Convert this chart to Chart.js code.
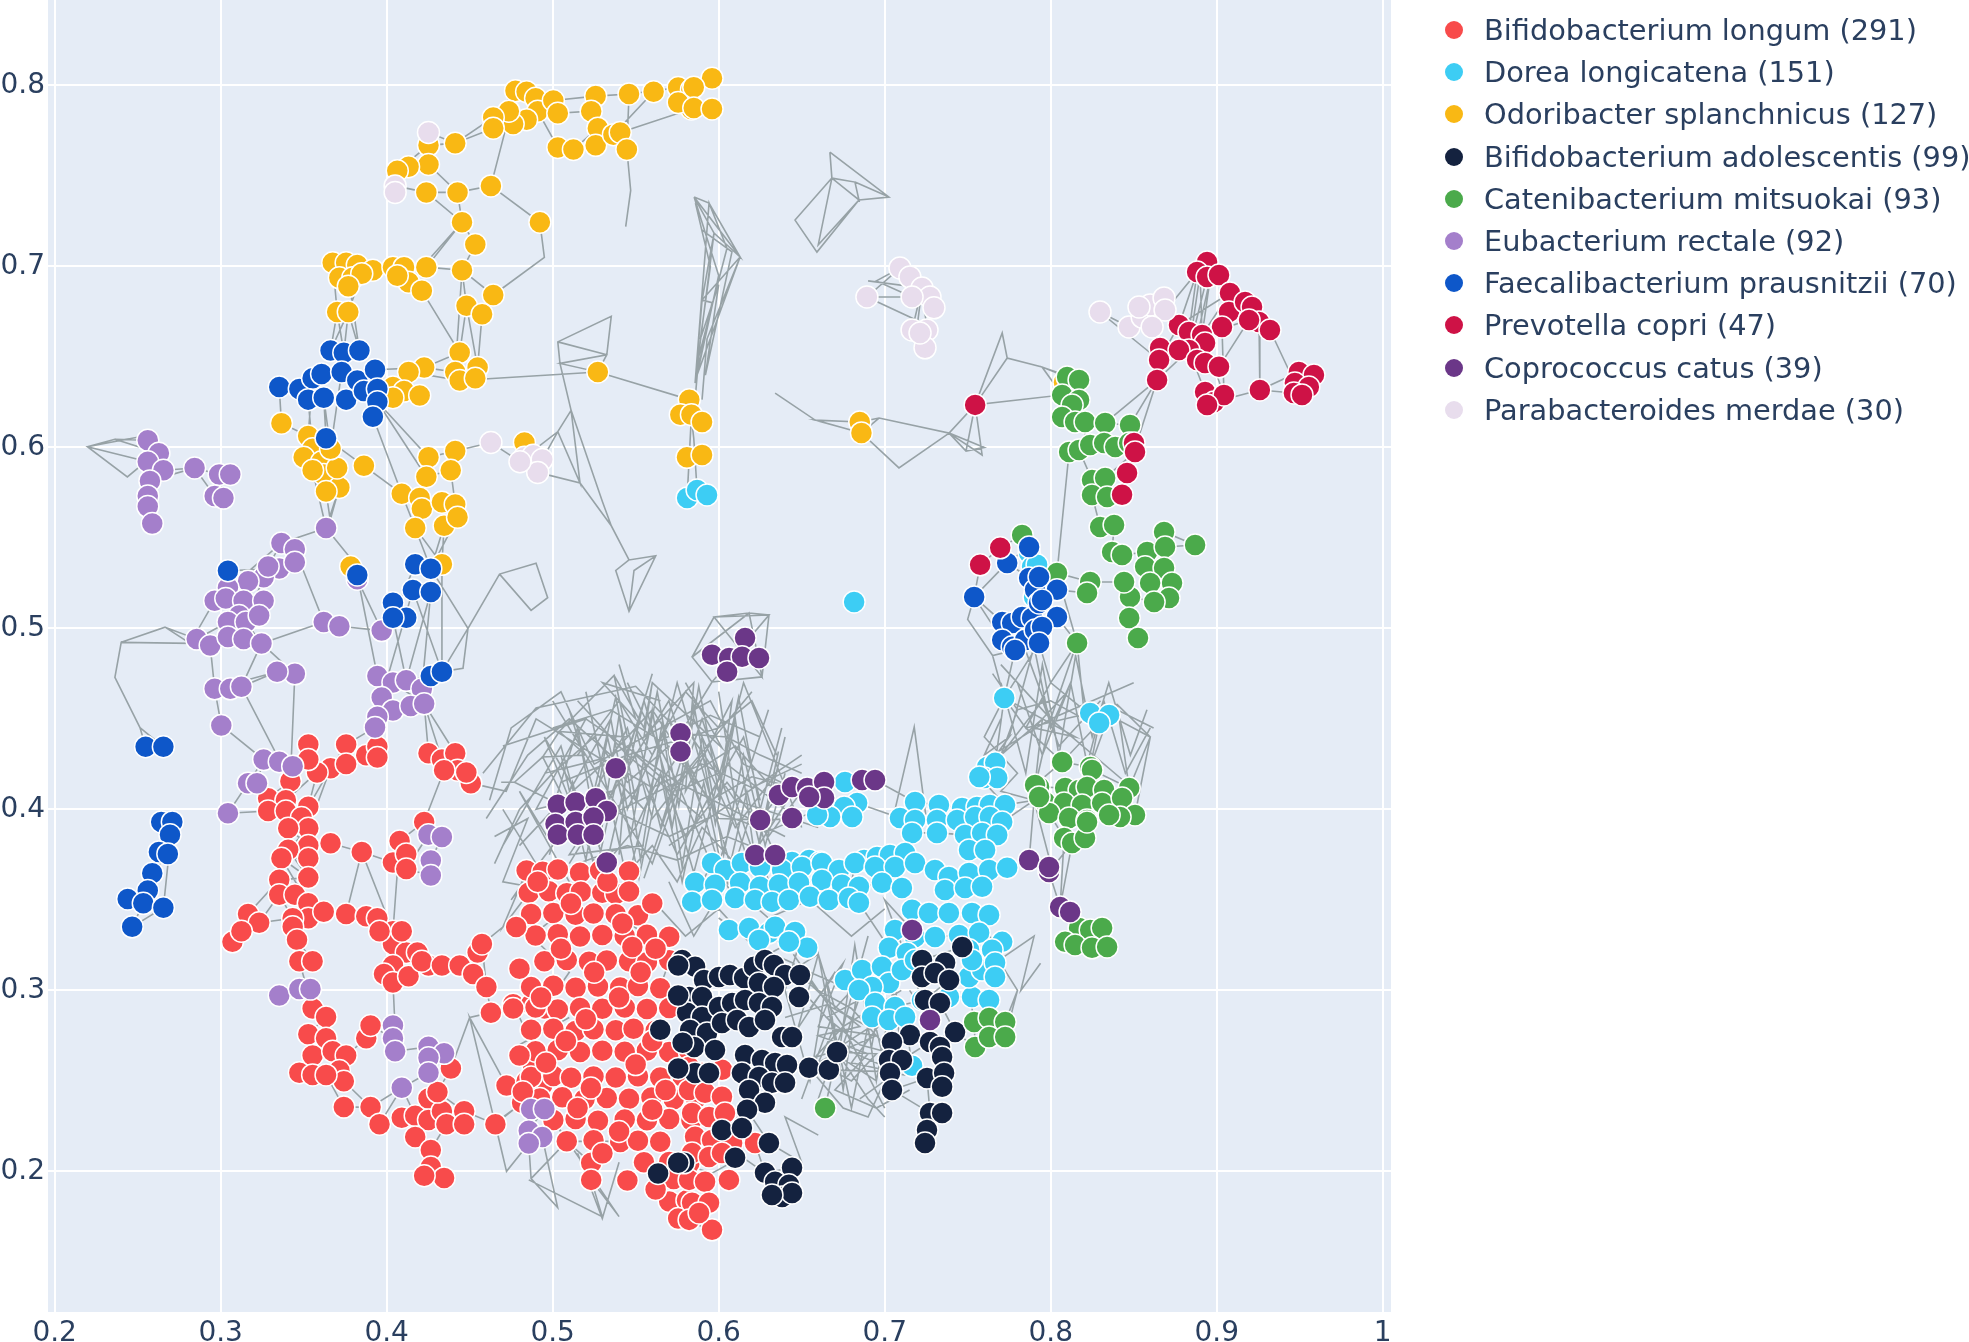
<!DOCTYPE html>
<html><head><meta charset="utf-8">
<script src="https://cdn.jsdelivr.net/npm/chart.js@4.4.1/dist/chart.umd.min.js"></script>
<style>
html,body{margin:0;padding:0;background:#fff;overflow:hidden;}
#wrap{position:relative;width:1969px;height:1342px;overflow:hidden;}
#c{position:absolute;left:0;top:0;}
#legend{position:absolute;left:1440px;top:9px;font-family:"DejaVu Sans",Verdana,sans-serif;font-size:28.8px;color:#2a3f5f;}
.item{height:42.2px;display:flex;align-items:center;white-space:nowrap;}
.dot{width:18px;height:18px;border-radius:50%;margin-left:5px;margin-right:21px;flex:none;}
</style></head>
<body>
<div id="wrap"><canvas id="c" width="1969" height="1342"></canvas><div id="legend"></div></div>
<script>
// ---------- tick labels ----------
const xTicks = [0.2,0.3,0.4,0.5,0.6,0.7,0.8,0.9,1.0];
const yTicks = [0.2,0.3,0.4,0.5,0.6,0.7,0.8];

// ---------- categories ----------
const speciesNames = ["Bifidobacterium longum","Dorea longicatena","Odoribacter splanchnicus","Bifidobacterium adolescentis","Catenibacterium mitsuokai","Eubacterium rectale","Faecalibacterium prausnitzii","Prevotella copri","Coprococcus catus","Parabacteroides merdae"];
const speciesCounts = [291,151,127,99,93,92,70,47,39,30];

// ---------- node positions (x, y) per species ----------
const longum = [
[0.3528,0.4358],[0.3756,0.4358],[0.3877,0.4299],[0.3944,0.4346],[0.3944,0.4287],[0.3662,0.4227],[0.3756,0.4251],[0.3581,0.4204],[0.3528,0.4275],[0.3420,0.4156],
[0.3286,0.4062],[0.3393,0.4050],[0.3286,0.3991],[0.3393,0.3991],[0.3528,0.4014],[0.3487,0.3955],[0.3528,0.3896],[0.3407,0.3896],[0.3528,0.3801],[0.3407,0.3777],
[0.3528,0.3730],[0.3662,0.3813],[0.3850,0.3765],[0.3366,0.3730],[0.3353,0.3611],[0.3528,0.3623],[0.3353,0.3528],[0.3447,0.3528],[0.3528,0.3481],[0.3528,0.3398],
[0.3434,0.3398],[0.3434,0.3351],[0.3460,0.3280],[0.3165,0.3422],[0.3232,0.3374],[0.3071,0.3268],[0.3125,0.3327],[0.3621,0.3434],[0.3756,0.3422],[0.3877,0.3410],
[0.3944,0.3398],[0.4038,0.3327],[0.4038,0.3256],[0.4118,0.3209],[0.4185,0.3209],[0.4252,0.3137],[0.4038,0.3137],[0.3984,0.3090],[0.4038,0.3043],[0.4132,0.3078],
[0.4212,0.3161],[0.4091,0.3327],[0.3957,0.3327],[0.3474,0.3161],[0.3554,0.3161],[0.4333,0.3137],[0.4440,0.3137],[0.4521,0.3090],[0.4548,0.3209],[0.4574,0.3256],
[0.4601,0.3019],[0.4628,0.2877],[0.4762,0.2924],[0.4870,0.2924],[0.4950,0.2900],[0.4252,0.4310],[0.4333,0.4275],[0.4413,0.4310],[0.4427,0.4216],[0.4346,0.4216],
[0.4507,0.4145],[0.4480,0.4204],[0.4226,0.3931],[0.4078,0.3825],[0.4038,0.3706],[0.4118,0.3754],[0.4118,0.3671],
[0.3554,0.2900],[0.3635,0.2853],[0.3528,0.2758],[0.3635,0.2735],[0.3554,0.2640],[0.3675,0.2664],[0.3756,0.2640],[0.3715,0.2557],[0.3742,0.2498],[0.3474,0.2545],
[0.3554,0.2533],[0.3635,0.2533],[0.3742,0.2355],[0.3903,0.2355],[0.3957,0.2261],[0.3877,0.2735],[0.3903,0.2806],[0.4091,0.2296],[0.4172,0.2308],[0.4252,0.2403],
[0.4252,0.2284],[0.4333,0.2332],[0.4360,0.2261],[0.4467,0.2332],[0.4467,0.2261],[0.4172,0.2190],[0.4266,0.2118],[0.4266,0.2024],[0.4346,0.1964],[0.4226,0.1976],
[0.4655,0.2261],[0.4722,0.2474],[0.4816,0.2379],[0.4843,0.2498],[0.4883,0.2569],[0.4937,0.2474],[0.4306,0.2438],[0.4387,0.2569],
[0.4843,0.3662],[0.4940,0.3655],[0.5031,0.3668],[0.5165,0.3650],[0.5286,0.3662],[0.5460,0.3657],
[0.4856,0.3540],[0.4977,0.3548],[0.5085,0.3536],[0.5170,0.3545],[0.5299,0.3540],[0.5380,0.3532],[0.5460,0.3546],
[0.4870,0.3422],[0.5004,0.3428],[0.5138,0.3418],[0.5246,0.3425],[0.5380,0.3420],[0.5514,0.3415],
[0.4897,0.3303],[0.5031,0.3310],[0.5165,0.3298],[0.5299,0.3306],[0.5434,0.3300],[0.5568,0.3308],[0.5702,0.3296],
[0.4950,0.3161],[0.5085,0.3168],[0.5219,0.3158],[0.5326,0.3165],[0.5460,0.3161],[0.5568,0.3155],[0.5702,0.3166],
[0.4870,0.3019],[0.5004,0.3025],[0.5138,0.3014],[0.5273,0.3021],[0.5407,0.3016],[0.5514,0.3024],[0.5648,0.3012],
[0.4762,0.2900],[0.4897,0.2906],[0.5031,0.2895],[0.5165,0.2903],[0.5299,0.2898],[0.5434,0.2905],[0.5568,0.2897],[0.5702,0.2902],
[0.4870,0.2782],[0.5004,0.2788],[0.5138,0.2776],[0.5246,0.2785],[0.5380,0.2780],[0.5487,0.2788],[0.5621,0.2779],
[0.4897,0.2664],[0.5031,0.2670],[0.5165,0.2660],[0.5299,0.2667],[0.5434,0.2661],[0.5568,0.2668],[0.5702,0.2659],[0.5823,0.2665],
[0.4870,0.2521],[0.5004,0.2527],[0.5111,0.2517],[0.5246,0.2524],[0.5380,0.2519],[0.5514,0.2526],[0.5648,0.2518],[0.5783,0.2523],
[0.4923,0.2403],[0.5058,0.2409],[0.5192,0.2398],[0.5326,0.2406],[0.5460,0.2401],[0.5595,0.2408],[0.5729,0.2399],[0.5863,0.2404],
[0.5004,0.2284],[0.5138,0.2290],[0.5273,0.2280],[0.5434,0.2287],[0.5568,0.2282],[0.5702,0.2289],[0.5836,0.2281],
[0.5085,0.2166],[0.5246,0.2172],[0.5407,0.2162],[0.5514,0.2169],[0.5648,0.2164],
[0.5232,0.2047],[0.5702,0.2052],[0.5823,0.2044],[0.5232,0.1953],[0.5729,0.1958],[0.5702,0.1834],[0.5809,0.1840],[0.5756,0.1739],
[0.4910,0.3600],[0.5110,0.3480],[0.5330,0.3600],[0.5420,0.3370],[0.5050,0.3230],[0.5250,0.3100],[0.5480,0.3240],[0.4930,0.2960],[0.5200,0.2840],[0.5400,0.2960],
[0.5600,0.2720],[0.4960,0.2600],[0.5230,0.2460],[0.5500,0.2590],[0.5680,0.2450],[0.5150,0.2350],[0.5400,0.2220],[0.5600,0.2340],[0.5300,0.2100],[0.5550,0.2050],
[0.5450,0.1950],[0.5620,0.1900],[0.5080,0.2720],[0.4800,0.2640],[0.4820,0.2440],[0.5530,0.3100],[0.5620,0.3230],[0.4800,0.3120],[0.4780,0.3350],[0.5600,0.3480],
[0.5822,0.2577],[0.5900,0.2544],[0.6020,0.2561],[0.5822,0.2450],[0.5918,0.2434],[0.6020,0.2412],[0.5840,0.2323],[0.5942,0.2301],[0.6038,0.2323],[0.5858,0.2191],
[0.5960,0.2174],[0.6081,0.2157],[0.6219,0.2157],[0.5840,0.2102],[0.5942,0.2080],[0.6020,0.2102],[0.6062,0.1953],[0.5822,0.1953],[0.5918,0.1942],[0.5840,0.1826],
[0.5942,0.1826],[0.5822,0.1732],[0.5960,0.1677],[0.5882,0.1770]
];
const dorea = [
[0.5810,0.5721],[0.5870,0.5765],[0.5930,0.5737],[0.6816,0.5146],[0.7720,0.4616],
[0.7617,0.4234],[0.7666,0.4257],[0.7600,0.4174],[0.7678,0.4174],[0.7570,0.4179],
[0.6761,0.4151],[0.6834,0.4035],[0.6756,0.4013],[0.6804,0.3958],[0.6671,0.3958],[0.6593,0.3969],
[0.7183,0.4041],[0.7327,0.4024],[0.7466,0.4008],[0.7556,0.4013],[0.7634,0.4024],[0.7725,0.4024],[0.7092,0.3952],[0.7183,0.3942],[0.7315,0.3942],[0.7436,0.3942],
[0.7545,0.3958],[0.7634,0.3958],[0.7708,0.3930],[0.7165,0.3870],[0.7315,0.3870],[0.7484,0.3859],[0.7587,0.3870],[0.7678,0.3859],[0.7508,0.3776],[0.7605,0.3776],
[0.6442,0.3709],[0.6545,0.3720],[0.6611,0.3709],[0.6876,0.3720],[0.6954,0.3737],[0.7032,0.3748],[0.7123,0.3759],
[0.5960,0.3704],[0.6038,0.3665],[0.6140,0.3704],[0.6249,0.3682],[0.6382,0.3665],[0.6502,0.3682],[0.6622,0.3704],[0.6725,0.3665],[0.6821,0.3704],[0.6942,0.3682],
[0.7062,0.3682],[0.7183,0.3704],[0.7303,0.3665],[0.7387,0.3627],[0.7508,0.3649],[0.7629,0.3665],[0.7738,0.3677],
[0.5858,0.3594],[0.5978,0.3583],[0.6129,0.3594],[0.6249,0.3572],[0.6363,0.3583],[0.6484,0.3594],[0.6622,0.3610],[0.6743,0.3583],[0.6845,0.3572],[0.6984,0.3594],
[0.7104,0.3566],[0.7363,0.3555],[0.7484,0.3566],[0.7587,0.3572],
[0.5840,0.3489],[0.5960,0.3500],[0.6099,0.3511],[0.6219,0.3500],[0.6321,0.3489],[0.6423,0.3500],[0.6550,0.3517],[0.6664,0.3500],[0.6785,0.3511],[0.6845,0.3484],
[0.7165,0.3445],[0.7267,0.3428],[0.7387,0.3428],[0.7526,0.3428],[0.7629,0.3417],
[0.6062,0.3334],[0.6183,0.3345],[0.6303,0.3318],[0.6340,0.3351],[0.6460,0.3323],[0.6533,0.3235],[0.6423,0.3268],[0.6243,0.3279],
[0.7062,0.3334],[0.7183,0.3295],[0.7303,0.3295],[0.7448,0.3306],[0.7569,0.3318],[0.7708,0.3268],[0.7026,0.3235],[0.7134,0.3207],[0.7508,0.3224],[0.7647,0.3224],
[0.6761,0.3058],[0.6864,0.3113],[0.6984,0.3130],[0.7026,0.3041],[0.6924,0.3019],[0.6845,0.3002],[0.6942,0.2930],[0.7062,0.2908],[0.7225,0.2947],[0.7387,0.2964],
[0.7526,0.2964],[0.7629,0.2947],[0.7508,0.3074],[0.7587,0.3113],[0.7665,0.3152],[0.7665,0.3074],[0.7526,0.3168],[0.7104,0.3113],[0.7183,0.3168],
[0.6924,0.2853],[0.7026,0.2837],[0.7123,0.2853],[0.7165,0.2583],
[0.7870,0.5417],[0.7888,0.5340],[0.7900,0.5174],[0.7918,0.5351],[0.8238,0.4532],[0.8352,0.4521],[0.8292,0.4477]
];
const odoribacter = [
[0.4776,0.7970],[0.4843,0.7965],[0.4897,0.7929],[0.4910,0.7858],[0.4843,0.7811],[0.4762,0.7787],[0.4736,0.7858],[0.4642,0.7823],[0.4642,0.7764],[0.5004,0.7917],
[0.5031,0.7846],[0.5031,0.7657],[0.5125,0.7646],[0.5259,0.7941],[0.5232,0.7858],[0.5272,0.7764],[0.5259,0.7669],[0.5366,0.7728],[0.5407,0.7740],[0.5447,0.7646],
[0.5460,0.7953],[0.5608,0.7965],[0.5756,0.7988],[0.5836,0.7976],[0.5836,0.7870],[0.5756,0.7905],[0.5960,0.8040],[0.5850,0.7990],[0.5850,0.7875],[0.5960,0.7870],
[0.4413,0.7681],[0.4252,0.7669],[0.4252,0.7563],[0.4132,0.7551],[0.4064,0.7528],[0.4239,0.7409],[0.4427,0.7409],[0.4628,0.7445],[0.4923,0.7244],[0.4454,0.7244],
[0.4534,0.7121],[0.4454,0.6979],[0.4481,0.6783],[0.4575,0.6736],[0.4642,0.6842],
[0.3675,0.7020],[0.3756,0.7020],[0.3823,0.7008],[0.3917,0.6979],[0.3715,0.6937],[0.3796,0.6937],[0.3850,0.6960],[0.3702,0.6748],[0.3769,0.6748],[0.3769,0.6890],
[0.4038,0.6996],[0.4105,0.6996],[0.4239,0.6996],[0.4132,0.6913],[0.4212,0.6866],[0.4064,0.6949],
[0.4440,0.6524],[0.4413,0.6417],[0.4548,0.6441],[0.4440,0.6370],[0.4534,0.6382],[0.4226,0.6441],[0.4132,0.6417],[0.4038,0.6334],[0.4105,0.6311],[0.4199,0.6287],
[0.4038,0.6275],[0.5272,0.6417],
[0.3366,0.6134],[0.3527,0.6063],[0.3554,0.5992],[0.3500,0.5945],[0.3608,0.5921],[0.3621,0.5850],[0.3715,0.5779],[0.3635,0.5756],[0.3702,0.5886],[0.3863,0.5898],
[0.3554,0.5874],[0.3662,0.5992],
[0.4252,0.5945],[0.4413,0.5980],[0.4386,0.5874],[0.4239,0.5838],[0.4091,0.5744],[0.4199,0.5720],[0.4212,0.5661],[0.4333,0.5697],[0.4172,0.5555],[0.4346,0.5567],
[0.4413,0.5685],[0.4427,0.5614],[0.4333,0.5354],[0.4830,0.6027],[0.3783,0.5342],
[0.5823,0.6264],[0.5769,0.6181],[0.5836,0.6181],[0.5809,0.5945],[0.5900,0.5958],[0.5900,0.6140],
[0.6850,0.6140],[0.6860,0.6080],[0.8080,0.6360]
];
const adolescentis = [
[0.5780,0.3168],[0.5858,0.3130],[0.5912,0.3058],[0.5822,0.2964],[0.5900,0.2964],[0.6002,0.3074],[0.6068,0.3085],[0.6153,0.3069],[0.6213,0.3130],[0.6279,0.3168],
[0.6333,0.3140],[0.6400,0.3085],[0.6490,0.3085],[0.6243,0.3041],[0.6333,0.3019],[0.6484,0.2964],[0.5810,0.2876],[0.5900,0.2853],[0.6002,0.2908],[0.6081,0.2930],
[0.6159,0.2947],[0.6243,0.2930],[0.6321,0.2908],[0.5828,0.2781],[0.5930,0.2765],[0.6020,0.2820],[0.6111,0.2837],[0.6183,0.2798],[0.6279,0.2837],[0.6382,0.2742],
[0.6442,0.2742],[0.5852,0.2687],[0.5978,0.2671],[0.6159,0.2643],[0.6261,0.2616],[0.6340,0.2599],[0.6412,0.2588],[0.6545,0.2572],[0.6664,0.2561],[0.6713,0.2659],
[0.5858,0.2544],[0.5942,0.2544],[0.6140,0.2544],[0.6243,0.2522],[0.6321,0.2489],[0.6400,0.2489],[0.6183,0.2450],[0.6279,0.2379],[0.6171,0.2340],[0.6020,0.2229],
[0.6140,0.2240],[0.6303,0.2157],[0.6099,0.2075],[0.5792,0.2047],[0.6279,0.1992],[0.6442,0.2020],[0.6340,0.1942],[0.6423,0.1926],[0.6382,0.1859],[0.6442,0.1881],
[0.6321,0.1870],
[0.7467,0.3240],[0.7225,0.3168],[0.7364,0.3152],[0.7225,0.3074],[0.7303,0.3096],[0.7388,0.3058],[0.7243,0.2947],[0.7333,0.2930],[0.7424,0.2770],[0.7152,0.2754],
[0.7044,0.2715],[0.7026,0.2616],[0.7104,0.2616],[0.7273,0.2715],[0.7333,0.2687],[0.7346,0.2632],[0.7032,0.2544],[0.7044,0.2450],[0.7255,0.2516],[0.7358,0.2544],
[0.7346,0.2467],[0.7273,0.2323],[0.7346,0.2323],[0.7255,0.2229],[0.7243,0.2157],
[0.5756,0.3137],[0.5756,0.2972],[0.5648,0.2782],[0.5783,0.2711],[0.5756,0.2569],[0.5756,0.2048],[0.5635,0.1988]
];
const catenibacterium = [
[0.8099,0.6389],[0.8171,0.6373],[0.8069,0.6290],[0.8171,0.6262],[0.8129,0.6234],[0.8069,0.6168],[0.8147,0.6140],[0.8207,0.6140],[0.8328,0.6135],[0.8478,0.6124],
[0.8111,0.5975],[0.8171,0.5986],[0.8238,0.6013],[0.8322,0.6024],[0.8389,0.6002],[0.8473,0.6024],[0.8249,0.5820],[0.8328,0.5831],[0.8249,0.5737],[0.8340,0.5726],
[0.8298,0.5560],[0.8382,0.5571],[0.8370,0.5422],[0.8430,0.5406],[0.8581,0.5422],[0.8683,0.5533],[0.8689,0.5450],[0.8870,0.5461],[0.8569,0.5340],[0.8683,0.5334],
[0.8731,0.5251],[0.8599,0.5251],[0.8713,0.5168],[0.8623,0.5146],[0.8478,0.5174],[0.8442,0.5256],[0.8238,0.5256],[0.8219,0.5196],[0.8038,0.5306],[0.8473,0.5057],
[0.8526,0.4947],[0.8159,0.4919],
[0.8069,0.4262],[0.8238,0.4234],[0.8249,0.4218],[0.7930,0.4124],[0.8087,0.4118],[0.8171,0.4107],[0.8219,0.4124],[0.8322,0.4107],[0.8473,0.4118],[0.7966,0.4041],
[0.8081,0.4035],[0.8189,0.4024],[0.8310,0.4035],[0.8430,0.4063],[0.8508,0.3969],[0.8418,0.3958],[0.8352,0.3969],[0.7990,0.3980],[0.8111,0.3952],[0.8219,0.3941],
[0.8081,0.3842],[0.8129,0.3814],[0.8207,0.3842],[0.8219,0.3930],
[0.8171,0.3345],[0.8238,0.3334],[0.8310,0.3345],[0.8087,0.3268],[0.8147,0.3251],[0.8249,0.3235],[0.8340,0.3240],
[0.6641,0.2350],[0.7539,0.2825],[0.7629,0.2848],[0.7726,0.2825],[0.7545,0.2687],[0.7629,0.2742],[0.7726,0.2742],
[0.7828,0.5516],[0.7906,0.4135],[0.7930,0.4069]
];
const eubacterium = [
[0.2561,0.6039],[0.2628,0.5968],[0.2561,0.5921],[0.2655,0.5874],[0.2574,0.5815],[0.2561,0.5732],[0.2561,0.5673],[0.2588,0.5579],[0.2843,0.5886],[0.2991,0.5850],
[0.3058,0.5850],[0.2964,0.5732],[0.3017,0.5720],[0.3635,0.5555],[0.3366,0.5472],[0.3447,0.5437],[0.3353,0.5331],[0.3447,0.5366],[0.3259,0.5283],[0.3286,0.5342],
[0.3165,0.5260],[0.3044,0.5224],[0.2964,0.5153],[0.3031,0.5165],[0.3138,0.5153],[0.3259,0.5153],[0.3111,0.5071],[0.3044,0.5035],[0.3152,0.5035],[0.3232,0.5071],
[0.2856,0.4941],[0.2937,0.4905],[0.3044,0.4953],[0.3138,0.4941],[0.3246,0.4917],[0.3621,0.5035],[0.3715,0.5012],[0.3970,0.4988],[0.3823,0.5272],
[0.2964,0.4666],[0.3058,0.4666],[0.3125,0.4678],[0.3004,0.4464],[0.3259,0.4275],[0.3353,0.4263],[0.3434,0.4239],[0.3165,0.4145],[0.3219,0.4145],[0.3044,0.3979],
[0.3447,0.4749],[0.3340,0.4761],[0.3944,0.4737],[0.4038,0.4701],[0.4118,0.4713],[0.4212,0.4666],[0.3970,0.4618],[0.4038,0.4547],[0.4145,0.4571],[0.4226,0.4583],
[0.3944,0.4512],[0.3930,0.4453],[0.4252,0.3860],[0.4333,0.3848],[0.4266,0.3718],[0.4266,0.3635],[0.3353,0.2972],[0.3474,0.3007],[0.3541,0.3007],[0.4038,0.2806],
[0.4038,0.2735],[0.4051,0.2664],[0.4252,0.2688],[0.4346,0.2652],[0.4252,0.2628],[0.4252,0.2545],[0.4091,0.2462],[0.4870,0.2344],[0.4950,0.2344],[0.4856,0.2225],
[0.4937,0.2190],[0.4856,0.2154]
];
const faecalibacterium = [
[0.3353,0.6334],[0.3474,0.6323],[0.3554,0.6382],[0.3608,0.6405],[0.3662,0.6535],[0.3742,0.6523],[0.3836,0.6535],[0.3527,0.6264],[0.3621,0.6275],[0.3729,0.6417],
[0.3756,0.6264],[0.3823,0.6370],[0.3930,0.6429],[0.3863,0.6311],[0.3944,0.6323],[0.3944,0.6252],[0.3917,0.6169],[0.3635,0.6051],[0.3044,0.5319],[0.3823,0.5295],
[0.4172,0.5354],[0.4266,0.5330],[0.4158,0.5212],[0.4266,0.5201],[0.4038,0.5142],[0.4118,0.5059],[0.4038,0.5059],
[0.4266,0.4737],[0.4333,0.4761],[0.2548,0.4346],[0.2655,0.4346],[0.2642,0.3931],[0.2709,0.3931],[0.2695,0.3860],[0.2628,0.3765],[0.2682,0.3754],[0.2588,0.3647],
[0.2561,0.3552],[0.2440,0.3505],[0.2534,0.3481],[0.2655,0.3457],[0.2467,0.3351],
[0.7539,0.5174],[0.7708,0.5036],[0.7768,0.5030],[0.7828,0.5063],[0.7888,0.5058],[0.7708,0.4936],[0.7768,0.4898],[0.7846,0.4936],[0.7906,0.4991],[0.7738,0.5362],
[0.7870,0.5279],[0.7906,0.5213],[0.7870,0.5450],[0.7930,0.5141],[0.7785,0.4880],
[0.7930,0.5284],[0.8038,0.5213],[0.7948,0.5157],[0.8038,0.5063],[0.7948,0.5008],[0.7930,0.4919]
];
const prevotella = [
[0.8942,0.7024],[0.8882,0.6969],[0.8942,0.6941],[0.9014,0.6953],[0.9080,0.6853],[0.9074,0.6748],[0.9032,0.6665],[0.9171,0.6803],[0.9213,0.6776],[0.9255,0.6693],
[0.9321,0.6649],[0.9195,0.6704],[0.8773,0.6676],[0.8833,0.6638],[0.8912,0.6621],[0.8930,0.6577],[0.8833,0.6538],[0.8659,0.6549],[0.8653,0.6483],[0.8773,0.6538],
[0.8882,0.6483],[0.8930,0.6467],[0.9014,0.6445],[0.8641,0.6373],[0.8930,0.6306],[0.8984,0.6251],[0.9044,0.6290],[0.8942,0.6234],[0.9260,0.6317],[0.9495,0.6417],
[0.9586,0.6400],[0.9471,0.6356],[0.9555,0.6334],[0.9465,0.6301],[0.9514,0.6290],
[0.7545,0.6235],[0.8502,0.6025],[0.8508,0.5975],[0.8460,0.5859],[0.8430,0.5738],[0.7575,0.5351],[0.7696,0.5445]
];
const coprococcus = [
[0.5770,0.4420],[0.5770,0.4320],[0.5380,0.4227],[0.5031,0.4026],[0.5138,0.4038],[0.5259,0.4062],[0.5326,0.3991],[0.5017,0.3919],[0.5138,0.3931],[0.5246,0.3955],
[0.5031,0.3860],[0.5152,0.3860],[0.5246,0.3860],[0.5326,0.3706],
[0.6159,0.4947],[0.5960,0.4854],[0.6063,0.4837],[0.6141,0.4843],[0.6243,0.4837],[0.6051,0.4760],
[0.6363,0.4080],[0.6442,0.4124],[0.6533,0.4118],[0.6635,0.4151],[0.6635,0.4063],[0.6545,0.4069],[0.6250,0.3942],[0.6442,0.3953],[0.6864,0.4162],[0.6942,0.4162],
[0.6220,0.3748],[0.6340,0.3748],[0.7870,0.3720],[0.7165,0.3334],[0.7273,0.2837],
[0.7990,0.3654],[0.8057,0.3461],[0.8117,0.3433],[0.7990,0.3682]
];
const parabacteroides = [
[0.4252,0.7740],[0.4051,0.7445],[0.4051,0.7409],[0.4628,0.6027],[0.4830,0.5945],[0.4883,0.5957],[0.4937,0.5933],[0.4910,0.5862],[0.4803,0.5921],
[0.7092,0.6991],[0.7152,0.6941],[0.7225,0.6881],[0.7273,0.6831],[0.7297,0.6771],[0.7165,0.6831],[0.6893,0.6831],[0.7165,0.6649],[0.7255,0.6649],[0.7243,0.6550],
[0.7213,0.6632],
[0.8297,0.6748],[0.8472,0.6665],[0.8551,0.6720],[0.8599,0.6787],[0.8683,0.6825],[0.8689,0.6759],[0.8611,0.6665],[0.8532,0.6776]
];

// ---------- edges: polylines (x1,y1,x2,y2,...) ----------
const edgePaths = [
[0.4064,0.7528,0.4252,0.7669,0.4413,0.7681,0.4642,0.7823,0.4776,0.7970,0.5004,0.7917,0.5259,0.7941,0.5460,0.7953,0.5756,0.7988,0.5960,0.8040],
[0.4252,0.7740,0.4413,0.7681,0.4642,0.7764,0.4843,0.7811,0.5031,0.7846,0.5232,0.7858,0.5366,0.7728,0.5608,0.7965],
[0.4910,0.7858,0.5031,0.7657,0.5125,0.7646,0.5272,0.7764,0.5447,0.7646,0.5460,0.7953],
[0.5259,0.7669,0.5407,0.7740,0.5836,0.7870,0.5850,0.7990],
[0.5447,0.7646,0.5470,0.7420,0.5440,0.7220],
[0.4051,0.7445,0.4239,0.7409,0.4427,0.7409,0.4628,0.7445,0.4776,0.7970],
[0.4628,0.7445,0.4923,0.7244,0.4950,0.7050,0.4642,0.6842],
[0.4239,0.7409,0.4454,0.7244,0.4534,0.7121,0.4454,0.6979,0.4481,0.6783,0.4575,0.6736,0.4642,0.6842,0.4454,0.6979],
[0.4252,0.7563,0.4427,0.7409,0.4454,0.7244,0.4239,0.6996,0.4132,0.6913,0.4454,0.7244],
[0.4212,0.6866,0.4440,0.6524,0.4481,0.6783,0.4548,0.6441,0.4575,0.6736],
[0.4239,0.6996,0.4454,0.6979,0.4413,0.6417,0.4226,0.6441,0.4440,0.6524],
[0.3675,0.7020,0.3702,0.6748,0.3662,0.6535,0.3769,0.6748,0.3742,0.6523,0.3702,0.6748],
[0.3850,0.6960,0.3769,0.6748,0.3836,0.6535,0.3756,0.7020],
[0.3917,0.6979,0.4038,0.6996,0.4064,0.6949],
[0.4038,0.6275,0.4132,0.6417,0.4440,0.6370,0.5272,0.6417,0.5823,0.6264],
[0.3930,0.6429,0.4226,0.6441,0.4413,0.6417],
[0.3353,0.6334,0.3366,0.6134,0.3527,0.6063,0.3554,0.6382],
[0.3527,0.6264,0.3554,0.5992,0.3635,0.6051,0.3621,0.6275,0.3662,0.5992,0.3729,0.6417],
[0.3635,0.6051,0.3863,0.5898,0.4091,0.5744,0.4199,0.5720],
[0.3917,0.6169,0.4091,0.5744,0.4172,0.5555,0.4266,0.5330],
[0.3944,0.6252,0.4252,0.5945,0.4413,0.5980,0.4628,0.6027,0.4803,0.5921],
[0.3944,0.6252,0.4239,0.5838,0.4386,0.5874,0.4413,0.5685],
[0.4212,0.5661,0.4172,0.5555,0.4333,0.5354,0.4346,0.5567,0.4266,0.5330,0.4427,0.5614],
[0.3554,0.5874,0.3635,0.5555,0.3715,0.5779,0.3660,0.5600,0.3635,0.5756],
[0.3635,0.5555,0.3366,0.5472,0.2964,0.5153,0.3044,0.5319,0.3353,0.5331],
[0.3635,0.5555,0.3823,0.5342,0.3823,0.5272,0.3970,0.4988,0.4038,0.5142],
[0.3621,0.5035,0.3715,0.5012,0.3970,0.4988,0.4118,0.5059],
[0.3447,0.5437,0.3621,0.5035,0.3246,0.4917],
[0.3823,0.5295,0.3944,0.4737,0.4038,0.4701,0.4266,0.4737],
[0.4172,0.5354,0.4038,0.5059,0.4118,0.4713,0.4266,0.5201,0.4212,0.4666],
[0.4333,0.5354,0.4333,0.4761,0.4158,0.5212,0.3970,0.4618],
[0.4266,0.5330,0.4490,0.5000,0.4680,0.5300,0.4900,0.5360,0.4970,0.5170,0.4870,0.5100,0.4680,0.5300],
[0.4490,0.5000,0.4333,0.4761,0.4460,0.4780,0.4490,0.5000],
[0.2197,0.6004,0.2363,0.6045,0.2561,0.6039,0.2514,0.6059,0.2197,0.6004,0.2438,0.5837,0.2574,0.5941,0.2628,0.5968,0.2363,0.6045],
[0.2197,0.6004,0.2561,0.5921,0.2655,0.5874,0.2843,0.5886,0.2991,0.5850,0.3058,0.5850],
[0.2574,0.5815,0.2843,0.5886,0.2964,0.5732,0.3017,0.5720,0.2991,0.5850],
[0.2561,0.6039,0.2561,0.5732,0.2588,0.5579],
[0.3044,0.5319,0.3165,0.5260,0.3259,0.5283,0.3353,0.5331,0.3447,0.5366,0.3366,0.5472,0.3286,0.5342,0.3044,0.5224,0.2964,0.5153,0.3031,0.5165,0.3138,0.5153,0.3259,0.5153,0.3232,0.5071,0.3111,0.5071,0.3044,0.5035,0.2856,0.4941,0.2937,0.4905,0.3044,0.4953,0.3138,0.4941,0.3246,0.4917,0.3152,0.5035,0.3259,0.5283],
[0.2937,0.4905,0.2964,0.4666,0.3058,0.4666,0.3125,0.4678,0.3246,0.4917,0.3447,0.4749,0.3340,0.4761,0.3125,0.4678],
[0.3004,0.4464,0.2964,0.4666,0.3340,0.4761],
[0.2401,0.4923,0.2665,0.5007,0.2816,0.4917,0.2401,0.4923,0.2363,0.4730,0.2514,0.4452,0.2548,0.4346],
[0.2665,0.5007,0.2856,0.4941,0.2816,0.4917,0.2964,0.5153],
[0.2514,0.4452,0.2655,0.4346],
[0.2642,0.3931,0.2695,0.3860,0.2628,0.3765,0.2682,0.3754,0.2588,0.3647,0.2561,0.3552,0.2440,0.3505,0.2534,0.3481,0.2655,0.3457,0.2467,0.3351,0.2534,0.3481,0.2561,0.3552,0.2655,0.3457,0.2709,0.3931],
[0.3004,0.4464,0.3259,0.4275,0.3353,0.4263,0.3434,0.4239,0.3528,0.4358],
[0.3044,0.3979,0.3165,0.4145,0.3259,0.4275,0.3219,0.4145,0.3286,0.4062,0.3165,0.4145],
[0.3044,0.3979,0.3286,0.3991,0.3219,0.4145,0.3393,0.4050],
[0.3434,0.4239,0.3580,0.4204,0.3662,0.4227,0.3756,0.4358,0.3877,0.4299],
[0.3125,0.4678,0.3420,0.4156,0.3528,0.4275],
[0.3447,0.4749,0.3420,0.4156],
[0.3944,0.4512,0.3930,0.4453,0.3944,0.4346,0.3944,0.4287,0.3930,0.4453,0.4038,0.4547,0.4145,0.4571,0.4226,0.4583,0.4038,0.4701,0.3970,0.4618,0.3944,0.4737,0.4118,0.4713,0.4212,0.4666,0.4145,0.4571],
[0.3930,0.4453,0.3756,0.4358,0.3944,0.4287],
[0.4226,0.4583,0.4252,0.4310,0.4333,0.4275,0.4226,0.4583,0.4413,0.4310,0.4480,0.4204,0.4507,0.4145,0.4427,0.4216,0.4346,0.4216,0.4252,0.4310],
[0.4346,0.4216,0.4226,0.3931,0.4078,0.3825,0.4038,0.3706,0.4118,0.3754,0.4118,0.3671,0.4252,0.3860,0.4333,0.3848,0.4266,0.3718,0.4266,0.3635,0.4118,0.3671],
[0.4038,0.3706,0.3850,0.3765,0.3662,0.3813,0.3528,0.3801],
[0.4507,0.4145,0.4720,0.4100,0.4900,0.4500,0.5380,0.4227],
[0.3528,0.4358,0.3528,0.4275,0.3420,0.4156,0.3286,0.4062,0.3393,0.4050,0.3286,0.3991,0.3393,0.3991,0.3528,0.4014,0.3487,0.3955,0.3528,0.3896,0.3407,0.3896,0.3528,0.3801,0.3407,0.3777,0.3528,0.3730,0.3366,0.3730,0.3353,0.3611,0.3528,0.3623,0.3353,0.3528,0.3447,0.3528,0.3528,0.3481,0.3528,0.3398,0.3434,0.3398,0.3434,0.3351,0.3460,0.3280,0.3554,0.3161,0.3474,0.3161,0.3460,0.3280],
[0.3393,0.4050,0.3581,0.4204,0.3528,0.4014,0.3662,0.4227,0.3528,0.3896,0.3407,0.3777,0.3528,0.3623,0.3366,0.3730,0.3528,0.3481,0.3353,0.3528],
[0.3165,0.3422,0.3232,0.3374,0.3071,0.3268,0.3125,0.3327,0.3232,0.3374,0.3353,0.3528,0.3434,0.3398,0.3232,0.3374,0.3165,0.3422,0.3353,0.3611],
[0.3528,0.3398,0.3621,0.3434,0.3756,0.3422,0.3877,0.3410,0.3944,0.3398,0.4038,0.3327,0.4091,0.3327,0.3957,0.3327,0.4038,0.3256,0.4118,0.3209,0.4185,0.3209,0.4252,0.3137,0.4212,0.3161,0.4132,0.3078,0.4038,0.3043,0.3984,0.3090,0.4038,0.3137,0.4118,0.3209],
[0.3756,0.3422,0.3850,0.3765,0.4038,0.3327,0.4078,0.3825],
[0.4252,0.3137,0.4333,0.3137,0.4440,0.3137,0.4521,0.3090,0.4548,0.3209,0.4574,0.3256,0.4601,0.3019,0.4628,0.2877,0.4762,0.2924,0.4870,0.2924,0.4950,0.2900],
[0.4574,0.3256,0.4700,0.3350,0.4843,0.3659,0.4700,0.3350,0.4856,0.3540],
[0.4038,0.3043,0.4050,0.2806,0.4038,0.2735,0.3903,0.2806,0.3877,0.2735],
[0.3474,0.3161,0.3554,0.2900,0.3635,0.2853,0.3528,0.2758,0.3635,0.2735,0.3554,0.2640,0.3675,0.2664,0.3756,0.2640,0.3715,0.2557,0.3742,0.2498,0.3635,0.2533,0.3554,0.2533,0.3474,0.2545,0.3554,0.2640,0.3635,0.2533,0.3742,0.2355,0.3903,0.2355,0.3957,0.2261,0.3903,0.2355,0.3742,0.2498],
[0.3353,0.2972,0.3474,0.3007,0.3554,0.2900,0.3541,0.3007,0.3635,0.2853],
[0.3756,0.2640,0.3877,0.2735,0.3903,0.2806,0.4038,0.2806,0.4051,0.2664,0.4252,0.2688,0.4346,0.2652,0.4252,0.2628,0.4252,0.2545,0.4091,0.2462,0.3957,0.2261,0.4091,0.2296,0.4172,0.2308,0.4252,0.2403,0.4333,0.2332,0.4252,0.2284,0.4360,0.2261,0.4467,0.2332,0.4467,0.2261,0.4360,0.2261,0.4266,0.2118,0.4172,0.2190,0.4266,0.2024,0.4346,0.1964,0.4226,0.1976,0.4266,0.2118],
[0.3903,0.2355,0.4091,0.2462,0.4172,0.2308,0.4306,0.2438,0.4387,0.2569,0.4252,0.2545,0.4306,0.2438,0.4467,0.2332],
[0.4346,0.2652,0.4387,0.2569,0.4500,0.2850,0.4628,0.2877],
[0.4467,0.2332,0.4655,0.2261,0.4816,0.2379,0.4722,0.2474,0.4843,0.2498,0.4883,0.2569,0.4937,0.2474,0.4870,0.2344,0.4950,0.2344,0.4856,0.2225,0.4937,0.2190,0.4856,0.2154,0.4870,0.2344],
[0.4655,0.2261,0.4722,0.2000,0.4856,0.2154,0.4870,0.1960,0.5030,0.1800,0.4937,0.2190],
[0.4870,0.1960,0.5085,0.2166,0.5232,0.2047,0.5232,0.1953,0.5400,0.1750,0.5004,0.2284],
[0.4722,0.2474,0.4500,0.2850,0.4722,0.2000],
[0.4580,0.4200,0.4900,0.4560,0.5200,0.4620,0.5500,0.4680,0.5770,0.4420,0.6050,0.4400,0.6250,0.4300,0.6500,0.4200],
[0.4600,0.3950,0.4850,0.4300,0.5100,0.4500,0.5350,0.4300,0.5600,0.4550,0.5850,0.4200,0.6100,0.4350,0.6360,0.4080],
[0.4650,0.3700,0.4800,0.4000,0.5000,0.4200,0.5250,0.4400,0.5450,0.4150,0.5700,0.4350,0.5950,0.4050,0.6200,0.4180,0.6442,0.4124],
[0.4800,0.3800,0.5031,0.4026,0.5300,0.4250,0.5550,0.4000,0.5770,0.4320,0.6000,0.3950,0.6250,0.3942,0.6500,0.3950],
[0.5326,0.3706,0.5500,0.3900,0.5650,0.4200,0.5800,0.3850,0.6050,0.4150,0.6300,0.3850,0.6500,0.4100],
[0.5460,0.3659,0.5600,0.3800,0.5750,0.3600,0.5900,0.3900,0.6100,0.3700,0.6200,0.4000],
[0.5300,0.3950,0.5500,0.4450,0.5650,0.3900,0.5850,0.4500,0.6000,0.4200,0.5750,0.4100,0.5500,0.4300,0.5380,0.4227],
[0.5150,0.4300,0.5400,0.4600,0.5600,0.4300,0.5800,0.4650,0.6000,0.4450,0.6200,0.4600,0.6350,0.4300],
[0.5100,0.4100,0.5350,0.4500,0.5450,0.4000,0.5700,0.4500,0.5900,0.4000,0.6150,0.4400,0.6250,0.4050],
[0.4950,0.4400,0.5200,0.4000,0.5450,0.4450,0.5600,0.3950,0.5900,0.4300,0.6100,0.3900,0.6350,0.4200],
[0.5600,0.4700,0.5550,0.4400,0.5850,0.4700,0.5800,0.4100,0.6080,0.4600,0.6000,0.4050],
[0.4700,0.4350,0.5200,0.4500,0.4900,0.4000,0.5350,0.4100,0.5100,0.3750,0.5550,0.3800],
[0.5400,0.4800,0.5500,0.4500,0.5300,0.4700,0.5650,0.4600],
[0.4620,0.4050,0.4750,0.4450,0.5050,0.4650,0.5250,0.4250,0.5650,0.4450,0.5950,0.4600,0.6150,0.4250,0.6600,0.4050],
[0.4700,0.3800,0.5050,0.4350,0.5200,0.3850,0.5550,0.4150,0.5750,0.3750,0.6050,0.4250,0.6400,0.4000],
[0.5000,0.4000,0.5150,0.4450,0.5280,0.3800,0.5400,0.4520,0.5530,0.3720,0.5660,0.4480,0.5780,0.3680,0.5900,0.4400,0.6030,0.3750,0.6150,0.4300,0.6280,0.3800,0.6400,0.4200],
[0.5050,0.4300,0.5200,0.3720,0.5330,0.4400,0.5470,0.3850,0.5600,0.4550,0.5720,0.3900,0.5850,0.4580,0.5980,0.3920,0.6100,0.4500,0.6220,0.3720,0.6360,0.4320],
[0.5100,0.4550,0.5250,0.4100,0.5380,0.4620,0.5500,0.4050,0.5630,0.4650,0.5760,0.4020,0.5880,0.4680,0.6000,0.4100,0.6120,0.4620,0.6250,0.4000,0.6380,0.4450],
[0.4980,0.3750,0.5120,0.4150,0.5260,0.3650,0.5390,0.4180,0.5520,0.3620,0.5650,0.4200,0.5780,0.3600,0.5910,0.4150,0.6040,0.3580,0.6170,0.4100,0.6300,0.3600],
[0.4950,0.4200,0.5300,0.4280,0.5600,0.4120,0.5900,0.4250,0.6200,0.4120,0.6500,0.4250],
[0.5000,0.4450,0.5350,0.4550,0.5650,0.4380,0.5950,0.4520,0.6250,0.4400],
[0.5050,0.3900,0.5400,0.3980,0.5700,0.3850,0.6000,0.3980,0.6300,0.3880,0.6600,0.4000],
[0.5150,0.3700,0.5450,0.3800,0.5750,0.3720,0.6050,0.3850,0.6400,0.3720],
[0.5000,0.4600,0.5600,0.3700,0.5900,0.4500,0.6200,0.3650,0.6400,0.4400],
[0.5100,0.3700,0.5700,0.4600,0.6000,0.3700,0.6300,0.4550],
[0.5200,0.4650,0.5450,0.3600,0.5750,0.4700,0.6100,0.3600,0.6450,0.4100],
[0.4950,0.4400,0.5300,0.3600,0.5550,0.4600,0.5850,0.3650,0.6150,0.4700,0.6500,0.3900],
[0.5750,0.4150,0.5200,0.4500,0.5750,0.4150,0.5300,0.3950,0.5750,0.4150,0.5450,0.4700,0.5750,0.4150,0.6200,0.4650,0.5750,0.4150,0.6400,0.3850,0.5750,0.4150,0.6000,0.3600,0.5750,0.4150,0.5550,0.3620],
[0.5450,0.4300,0.5050,0.4150,0.5450,0.4300,0.5150,0.4600,0.5450,0.4300,0.5600,0.4750,0.5450,0.4300,0.6000,0.4450,0.5450,0.4300,0.5900,0.3950,0.5450,0.4300,0.5400,0.3750],
[0.6100,0.4050,0.5800,0.4450,0.6100,0.4050,0.6500,0.4300,0.6100,0.4050,0.6600,0.3900,0.6100,0.4050,0.6250,0.3650,0.6100,0.4050,0.5700,0.3800,0.6100,0.4050,0.6000,0.4650],
[0.4690,0.4150,0.4770,0.4150,0.4940,0.4290,0.5040,0.4430,0.5370,0.4740,0.5450,0.4400,0.5040,0.4430,0.5200,0.4300,0.4940,0.4290,0.5100,0.4000,0.4770,0.4150],
[0.5370,0.4740,0.5550,0.4450,0.5600,0.4700,0.6020,0.4340,0.5800,0.4700],
[0.4700,0.4000,0.4900,0.3700,0.4750,0.3500,0.5000,0.3800,0.4800,0.4100,0.5100,0.3600],
[0.4650,0.3850,0.4850,0.3950,0.4700,0.3600,0.5000,0.3550],
[0.5600,0.3500,0.5800,0.3300,0.6000,0.3450,0.6200,0.3250,0.6450,0.3150,0.6600,0.3000,0.6800,0.2900,0.7000,0.2700],
[0.6500,0.3000,0.6700,0.2800,0.6600,0.2600,0.6800,0.2500,0.6950,0.2650,0.6713,0.2659,0.6900,0.2400,0.7000,0.2300],
[0.6400,0.3085,0.6600,0.3200,0.6700,0.2900,0.6900,0.3100,0.6750,0.2700,0.7000,0.2850,0.6800,0.2600,0.7050,0.2550,0.6664,0.2561],
[0.6490,0.3085,0.6650,0.2950,0.6850,0.2800,0.6600,0.2750,0.6900,0.2650,0.6700,0.2450,0.6950,0.2350,0.7150,0.2450],
[0.6545,0.2572,0.6750,0.2350,0.6900,0.2300,0.7000,0.2500,0.6850,0.2400],
[0.6442,0.2742,0.6700,0.3100,0.6850,0.2950,0.6650,0.2850,0.6850,0.2700,0.7050,0.2650],
[0.6000,0.3400,0.6300,0.3200,0.6500,0.3300,0.6400,0.3000],
[0.5700,0.3600,0.5850,0.3300,0.6050,0.3600,0.6300,0.3400,0.6550,0.3500,0.6800,0.3300,0.7000,0.3450],
[0.6550,0.2900,0.6750,0.3150,0.6600,0.2800,0.6950,0.2750,0.6700,0.2650,0.6950,0.2500],
[0.6400,0.3000,0.6550,0.2500,0.6650,0.3050,0.6750,0.2450,0.6850,0.3100,0.6950,0.2500,0.7050,0.3000,0.7120,0.2550],
[0.6450,0.2700,0.6600,0.3200,0.6720,0.2620,0.6820,0.3250,0.6920,0.2680,0.7020,0.3200,0.7120,0.2750],
[0.6500,0.2400,0.6680,0.2850,0.6800,0.2350,0.6920,0.2900,0.7050,0.2400],
[0.6400,0.2850,0.6650,0.2920,0.6900,0.2800,0.7120,0.2900],
[0.6480,0.2600,0.6750,0.2680,0.7000,0.2580],
[0.6550,0.3100,0.6800,0.3000,0.7050,0.3120],
[0.6750,0.2800,0.6450,0.3200,0.6750,0.2800,0.6500,0.2550,0.6750,0.2800,0.7000,0.2350,0.6750,0.2800,0.7100,0.3000,0.6750,0.2800,0.6900,0.3300,0.6750,0.2800,0.6600,0.2400],
[0.4843,0.3659,0.5031,0.3540,0.5286,0.3659,0.5380,0.3422,0.5568,0.3303,0.5702,0.3161,0.5648,0.3019,0.5702,0.2900],
[0.4762,0.2924,0.4897,0.2664,0.4870,0.2521,0.5004,0.2284,0.5085,0.2166,0.5246,0.2166],
[0.4950,0.2900,0.5100,0.3100,0.4870,0.3300,0.5150,0.3500,0.4900,0.3650],
[0.4700,0.2300,0.5000,0.2500,0.4800,0.2700,0.5100,0.2850],
[0.5246,0.2166,0.5407,0.2166,0.5514,0.2166,0.5648,0.2166,0.5702,0.2047,0.5823,0.2047,0.5729,0.1953,0.5702,0.1834,0.5809,0.1834,0.5756,0.1739,0.5960,0.1677],
[0.5150,0.2100,0.5299,0.1740,0.5400,0.2050],
[0.4856,0.1953,0.5299,0.1750,0.5232,0.1953],
[0.5756,0.2048,0.5960,0.1990,0.6140,0.2080,0.6279,0.1992,0.6442,0.2020,0.6340,0.1942,0.6423,0.1926,0.6382,0.1859,0.6321,0.1870,0.6442,0.1881],
[0.6081,0.2157,0.6303,0.2157,0.6171,0.2340,0.6020,0.2229,0.6140,0.2240,0.6279,0.2379],
[0.6219,0.2157,0.6279,0.1992],
[0.6303,0.2157,0.6500,0.2050,0.6400,0.2300,0.6600,0.2200],
[0.5870,0.5765,0.5850,0.6050,0.5823,0.6264,0.5900,0.6140,0.5769,0.6181,0.5836,0.6181,0.5810,0.5721],
[0.5852,0.7383,0.5942,0.7350,0.6129,0.7052,0.5972,0.7184,0.5852,0.7383,0.6129,0.7052,0.5900,0.6814,0.5858,0.6356,0.5972,0.7184,0.5900,0.6814,0.5960,0.6800,0.5858,0.6356,0.5942,0.7350,0.6050,0.7100,0.5880,0.6500,0.5858,0.6264],
[0.5852,0.7383,0.6000,0.6950,0.5870,0.6400,0.6129,0.7052,0.5930,0.6600,0.5900,0.6264],
[0.5860,0.7350,0.5950,0.7000,0.5890,0.6600,0.6000,0.6900,0.5920,0.6400,0.6080,0.7080,0.5900,0.7200],
[0.6670,0.7631,0.6682,0.7488,0.6460,0.7256,0.6592,0.7079,0.6845,0.7367,0.7026,0.7383,0.6670,0.7631],
[0.6682,0.7488,0.6821,0.7466,0.6845,0.7367,0.6682,0.7488,0.6600,0.7120,0.6845,0.7367],
[0.6821,0.7466,0.7026,0.7383],
[0.6893,0.6831,0.7092,0.6991,0.6950,0.6920,0.7165,0.6831,0.6893,0.6831,0.7200,0.6700,0.7225,0.6881,0.7255,0.6649,0.7165,0.6649,0.7243,0.6550],
[0.6900,0.6920,0.7225,0.6881,0.7165,0.6649,0.7213,0.6632],
[0.6340,0.6300,0.6581,0.6151,0.6850,0.6140,0.6966,0.6162,0.7388,0.6079,0.7545,0.6235,0.7708,0.6632,0.7738,0.6494,0.7948,0.6444,0.8099,0.6389],
[0.6581,0.6151,0.6860,0.6080,0.7086,0.5887,0.7388,0.6079,0.7587,0.5958,0.7545,0.6235,0.7490,0.5980],
[0.7545,0.6235,0.7738,0.6494,0.7708,0.6632,0.7545,0.6235,0.8069,0.6290,0.7948,0.6444,0.8171,0.6373],
[0.6966,0.6162,0.6860,0.6080,0.6580,0.6151,0.6850,0.6140],
[0.7388,0.6079,0.7600,0.6000,0.7490,0.5980,0.7388,0.6079],
[0.5840,0.4842,0.5972,0.5063,0.6183,0.5085,0.6303,0.5074,0.6261,0.4732,0.5960,0.4704,0.5840,0.4842,0.6183,0.5085,0.6261,0.4732,0.5972,0.5063,0.6303,0.5074,0.5960,0.4704],
[0.5960,0.4704,0.5770,0.4420],
[0.4937,0.5933,0.5031,0.6087,0.5111,0.6205,0.5044,0.6464,0.5031,0.6583,0.5353,0.6724,0.5326,0.6512,0.5044,0.6464,0.5272,0.6417,0.5326,0.6512,0.5031,0.6583],
[0.4910,0.5862,0.5165,0.5803,0.5353,0.5567,0.5460,0.5378,0.5621,0.5401,0.5460,0.5094,0.5380,0.5320,0.5460,0.5378],
[0.4830,0.5945,0.5031,0.6087,0.5165,0.5803,0.5111,0.6205,0.5300,0.5700,0.5353,0.5567],
[0.5621,0.5401,0.5490,0.5320,0.5460,0.5094],
[0.7539,0.5174,0.7575,0.5351,0.7696,0.5445,0.7738,0.5362,0.7870,0.5450,0.7828,0.5516,0.7870,0.5417,0.7888,0.5340,0.7918,0.5351,0.7930,0.5284,0.7870,0.5279,0.7738,0.5362,0.7539,0.5174,0.7708,0.5036,0.7768,0.5030,0.7828,0.5063,0.7888,0.5058,0.7906,0.4991,0.7846,0.4936,0.7768,0.4898,0.7708,0.4936,0.7539,0.5174],
[0.7539,0.5174,0.7500,0.5050,0.7650,0.4850,0.7785,0.4880,0.7720,0.4616,0.7650,0.4850],
[0.7930,0.4919,0.7948,0.5008,0.8038,0.5063,0.7948,0.5157,0.8038,0.5213,0.7930,0.5284,0.8038,0.5306],
[0.8038,0.5213,0.8219,0.5196,0.8238,0.5256,0.8038,0.5306,0.8159,0.4919,0.8038,0.5063],
[0.8159,0.4919,0.8000,0.4700,0.7930,0.4919,0.7720,0.4616,0.7850,0.4450,0.8000,0.4700,0.8200,0.4550,0.8159,0.4919],
[0.7850,0.4450,0.8238,0.4532,0.8400,0.4580,0.8600,0.4400,0.8473,0.4118,0.8400,0.4580],
[0.7700,0.4500,0.7600,0.4300,0.7750,0.4400,0.7617,0.4234,0.7950,0.4500,0.7906,0.4135,0.8069,0.4262,0.7850,0.4450,0.8069,0.4262,0.8292,0.4477,0.8238,0.4234,0.8352,0.4521,0.8600,0.4400,0.8508,0.3969],
[0.7800,0.4700,0.7950,0.4300,0.8100,0.4650,0.7900,0.4450,0.8150,0.4400,0.7720,0.4616],
[0.7720,0.4616,0.7600,0.4400,0.7800,0.4200,0.7700,0.4100,0.7900,0.4050,0.7725,0.4024],
[0.7650,0.4750,0.7800,0.4550,0.7700,0.4300,0.7950,0.4600,0.8050,0.4350,0.8300,0.4600],
[0.7700,0.4700,0.7850,0.4200,0.7950,0.4800,0.8050,0.4300,0.8150,0.4850,0.8250,0.4400,0.8350,0.4700,0.8480,0.4300,0.8580,0.4550],
[0.7750,0.4400,0.7900,0.4900,0.8000,0.4450,0.8120,0.4700,0.8220,0.4250,0.8320,0.4600,0.8450,0.4200,0.8600,0.4450],
[0.7800,0.4550,0.8000,0.4600,0.8200,0.4500,0.8400,0.4550,0.8620,0.4450],
[0.8000,0.4500,0.7700,0.4800,0.8000,0.4500,0.7800,0.5000,0.8000,0.4500,0.8150,0.4900,0.8000,0.4500,0.8500,0.4700,0.8000,0.4500,0.8450,0.4150,0.8000,0.4500,0.7900,0.4100,0.8000,0.4500,0.7650,0.4300],
[0.8038,0.5306,0.8111,0.5975,0.8171,0.5986,0.8249,0.5820,0.8249,0.5737,0.8298,0.5560,0.8382,0.5571,0.8370,0.5422,0.8430,0.5406,0.8581,0.5422,0.8683,0.5533,0.8870,0.5461,0.8689,0.5450,0.8569,0.5340,0.8683,0.5334,0.8731,0.5251,0.8713,0.5168,0.8623,0.5146,0.8478,0.5174,0.8442,0.5256,0.8238,0.5256],
[0.8340,0.5726,0.8430,0.5738,0.8460,0.5859,0.8328,0.5831,0.8508,0.5975,0.8473,0.6024,0.8502,0.6025,0.8389,0.6002],
[0.8238,0.6013,0.8129,0.6234,0.8207,0.6140,0.8478,0.6124,0.8641,0.6373,0.8653,0.6483,0.8297,0.6748,0.8472,0.6665],
[0.8328,0.6135,0.8641,0.6373,0.8833,0.6538,0.8930,0.6306,0.8984,0.6251,0.9260,0.6317,0.9465,0.6301,0.9514,0.6290,0.9586,0.6400,0.9495,0.6417,0.9260,0.6317],
[0.8653,0.6483,0.8773,0.6676,0.8882,0.6969,0.8942,0.7024,0.9014,0.6953,0.9080,0.6853,0.9171,0.6803,0.9255,0.6693,0.9321,0.6649,0.9471,0.6356],
[0.8611,0.6665,0.8882,0.6969,0.8833,0.6638,0.8912,0.6621,0.8930,0.6577,0.9044,0.6290,0.9032,0.6665,0.9074,0.6748,0.9213,0.6776,0.9255,0.6693,0.9260,0.6317],
[0.8773,0.6676,0.9080,0.6853,0.8912,0.6621,0.9195,0.6704,0.9014,0.6445,0.8882,0.6483],
[0.8942,0.6941,0.8833,0.6538,0.8900,0.6960,0.8912,0.6621,0.8960,0.6930,0.8870,0.6560],
[0.8641,0.6373,0.8460,0.5859,0.8430,0.5738],
[0.7696,0.5445,0.7828,0.5516,0.7930,0.5284],
[0.8069,0.4262,0.8238,0.4234,0.8249,0.4218,0.8473,0.4118,0.8322,0.4107,0.8219,0.4124,0.8087,0.4118,0.7930,0.4124,0.7966,0.4041,0.8081,0.4035,0.8189,0.4024,0.8310,0.4035,0.8430,0.4063,0.8508,0.3969,0.8418,0.3958,0.8352,0.3969,0.8219,0.3941,0.8111,0.3952,0.7990,0.3980,0.8081,0.3842,0.8129,0.3814,0.8207,0.3842,0.8219,0.3930],
[0.7870,0.3720,0.7990,0.3682,0.7990,0.3654,0.8057,0.3461,0.8117,0.3433,0.8171,0.3345,0.8087,0.3268,0.8147,0.3251,0.8249,0.3235,0.8340,0.3240,0.8310,0.3345,0.8238,0.3334],
[0.7990,0.3654,0.8129,0.3814,0.8057,0.3461,0.8081,0.3842],
[0.7870,0.3720,0.7900,0.4050,0.7990,0.3980],
[0.7720,0.4616,0.7666,0.4257,0.7600,0.4174,0.7570,0.4179,0.7725,0.4024,0.7634,0.4024,0.7556,0.4013,0.7466,0.4008,0.7327,0.4024,0.7183,0.4041,0.7092,0.3952,0.7165,0.3870,0.7315,0.3870,0.7484,0.3859,0.7587,0.3870,0.7678,0.3859,0.7605,0.3776,0.7508,0.3776,0.7738,0.3677,0.7629,0.3665,0.7508,0.3649,0.7387,0.3627,0.7303,0.3665],
[0.6761,0.4151,0.6864,0.4162,0.6942,0.4162,0.7183,0.4041,0.7092,0.3952,0.6834,0.4035,0.6756,0.4013,0.6804,0.3958,0.6671,0.3958,0.6593,0.3969,0.6545,0.4069,0.6635,0.4063,0.6671,0.3958],
[0.7050,0.3950,0.7178,0.4455,0.7250,0.3950],
[0.7708,0.3930,0.7900,0.4050,0.8000,0.3700,0.7870,0.3720,0.7738,0.3677],
[0.7647,0.3224,0.7800,0.3000,0.7726,0.2825,0.7629,0.2848,0.7539,0.2825,0.7545,0.2687,0.7629,0.2742,0.7726,0.2742,0.7800,0.3000],
[0.7665,0.3152,0.7900,0.3300,0.7820,0.3000,0.7939,0.3150],
[0.7424,0.2770,0.7545,0.2687,0.7539,0.2825,0.7467,0.3240],
[0.7467,0.3240,0.7225,0.3168,0.7364,0.3152,0.7225,0.3074,0.7303,0.3096,0.7388,0.3058,0.7243,0.2947,0.7333,0.2930,0.7424,0.2770,0.7273,0.2715,0.7152,0.2754,0.7044,0.2715,0.7026,0.2616,0.7104,0.2616,0.7273,0.2715,0.7333,0.2687,0.7346,0.2632,0.7358,0.2544,0.7346,0.2467,0.7255,0.2516,0.7032,0.2544,0.7044,0.2450,0.7255,0.2516,0.7273,0.2323,0.7346,0.2323,0.7255,0.2229,0.7243,0.2157],
[0.7044,0.2450,0.7273,0.2323,0.7255,0.2229],
[0.5858,0.3594,0.5978,0.3583,0.6129,0.3594,0.6249,0.3572,0.6363,0.3583,0.6484,0.3594,0.6622,0.3610,0.6743,0.3583,0.6845,0.3572,0.6984,0.3594,0.7104,0.3566],
[0.5840,0.3489,0.5960,0.3704,0.6099,0.3511,0.6140,0.3704,0.6219,0.3500,0.6249,0.3682,0.6321,0.3489,0.6382,0.3665,0.6423,0.3500,0.6502,0.3682,0.6550,0.3517,0.6622,0.3704,0.6664,0.3500,0.6725,0.3665,0.6785,0.3511,0.6821,0.3704],
[0.6062,0.3334,0.6183,0.3345,0.6303,0.3318,0.6340,0.3351,0.6460,0.3323,0.6533,0.3235,0.6423,0.3268,0.6243,0.3279],
[0.6845,0.3484,0.7026,0.3235,0.7062,0.3334,0.7183,0.3295,0.7303,0.3295,0.7448,0.3306,0.7569,0.3318,0.7708,0.3268],
[0.6761,0.3058,0.6864,0.3113,0.6984,0.3130,0.7026,0.3041,0.6924,0.3019,0.6845,0.3002,0.6942,0.2930,0.7062,0.2908,0.7225,0.2947,0.7387,0.2964,0.7526,0.2964,0.7629,0.2947],
[0.7134,0.3207,0.7104,0.3113,0.7183,0.3168,0.7508,0.3074,0.7587,0.3113,0.7526,0.3168],
[0.6924,0.2853,0.7026,0.2837,0.7123,0.2853,0.7165,0.2583],
[0.5031,0.4026,0.5138,0.4038,0.5259,0.4062,0.5326,0.3991,0.5246,0.3955,0.5138,0.3931,0.5017,0.3919,0.5031,0.3860,0.5152,0.3860,0.5246,0.3860,0.5326,0.3706],
[0.6220,0.3748,0.6340,0.3748,0.6250,0.3942,0.6363,0.4080,0.6442,0.4124,0.6533,0.4118,0.6635,0.4151,0.6635,0.4063,0.6545,0.4069],
[0.7165,0.3334,0.7000,0.3500,0.7273,0.2837,0.7150,0.3000],
[0.6641,0.2350,0.6713,0.2659,0.6600,0.2600]
];

// ---------- styling ----------
const colors = ["#F84B4B","#3DCDF4","#F9B814","#14223F","#4BAA4B","#A47FCB","#0E57C9","#CE1246","#6B3788","#E8DDED"];
const seriesData = [longum,dorea,odoribacter,adolescentis,catenibacterium,eubacterium,faecalibacterium,prevotella,coprococcus,parabacteroides];

const edgePoints = [];
edgePaths.forEach(p => {
  for (let i = 0; i < p.length; i += 2) edgePoints.push({x:p[i], y:p[i+1]});
  edgePoints.push({x:NaN, y:NaN});
});

const datasets = [{
  label:'edges', data:edgePoints, showLine:true, pointRadius:0, pointHoverRadius:0,
  borderColor:'#97A2A6', borderWidth:1.6, spanGaps:false, order:100
}];
seriesData.forEach((arr, i) => {
  datasets.push({
    label: speciesNames[i] + ' (' + speciesCounts[i] + ')',
    data: arr.map(p => ({x:p[0], y:p[1]})),
    backgroundColor: colors[i], borderColor:'#ffffff', borderWidth:1.5,
    pointRadius:11, pointHoverRadius:11, order: 10 - i
  });
});

const bgPlugin = {
  id:'bg',
  beforeDraw(chart){
    const {ctx, chartArea:a} = chart;
    ctx.save(); ctx.fillStyle='#E5ECF6'; ctx.fillRect(a.left, a.top, a.right-a.left, a.bottom-a.top); ctx.restore();
  }
};
const fmt = v => String(Math.round(v*10)/10);
const tickFont = {family:'"DejaVu Sans", Verdana, sans-serif', size:28};
const noPad = s => { s.paddingTop = 0; s.paddingBottom = 0; s.paddingLeft = 0; s.paddingRight = 0; };

new Chart(document.getElementById('c'), {
  type:'scatter',
  data:{datasets},
  options:{
    responsive:false, animation:false, devicePixelRatio:1,
    events:[],
    layout:{autoPadding:false, padding:{left:0,right:578,top:0,bottom:0}},
    plugins:{legend:{display:false}, tooltip:{enabled:false}},
    scales:{
      x:{type:'linear', min:0.196, max:1.005,
         afterFit(s){ s.height = 30; noPad(s); },
         afterBuildTicks(s){ s.ticks = xTicks.map(v=>({value:v})); },
         grid:{color:'#ffffff', lineWidth:2, drawTicks:false},
         border:{display:false},
         ticks:{color:'#2a3f5f', font:tickFont, padding:5, maxRotation:0, autoSkip:false, callback:v=>fmt(v)}},
      y:{type:'linear', min:0.1223, max:0.8472,
         afterFit(s){ s.width = 48; noPad(s); },
         afterBuildTicks(s){ s.ticks = yTicks.map(v=>({value:v})); },
         grid:{color:'#ffffff', lineWidth:2, drawTicks:false},
         border:{display:false},
         ticks:{color:'#2a3f5f', font:tickFont, padding:3, autoSkip:false, callback:v=>fmt(v)}}
    }
  },
  plugins:[bgPlugin]
});

// ---------- legend (HTML text) ----------
const lg = document.getElementById('legend');
speciesNames.forEach((n,i) => {
  const it = document.createElement('div'); it.className='item';
  const d = document.createElement('span'); d.className='dot'; d.style.background=colors[i];
  const t = document.createElement('span'); t.textContent = n + ' (' + speciesCounts[i] + ')';
  it.appendChild(d); it.appendChild(t); lg.appendChild(it);
});
</script>
</body></html>
